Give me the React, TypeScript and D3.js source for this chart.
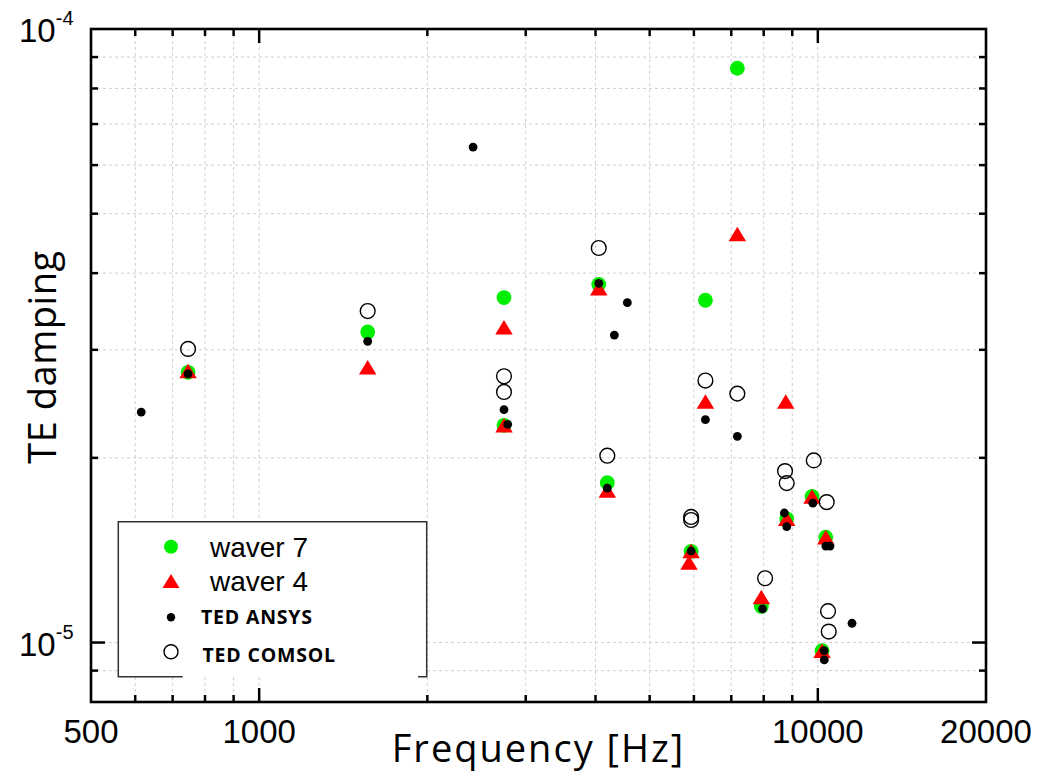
import * as d3 from "d3";
import React from "react";

// frequency [Hz], TE damping
const waver7: [number, number][] = [
  [746, 2.757e-5], [1564, 3.208e-5], [2743, 3.65e-5], [2743, 2.26e-5],
  [4054, 3.834e-5], [4199, 1.822e-5], [5932, 1.408e-5], [6292, 3.613e-5],
  [7177, 8.63e-5], [7924, 1.145e-5], [8797, 1.591e-5], [9765, 1.73e-5],
  [10333, 1.485e-5], [10176, 9.7e-6],
];

const waver4: [number, number][] = [
  [746, 2.77e-5], [1564, 2.81e-5], [2743, 3.265e-5], [2743, 2.26e-5],
  [4054, 3.78e-5], [4199, 1.77e-5], [5932, 1.41e-5], [5880, 1.351e-5],
  [6292, 2.471e-5], [7177, 4.635e-5], [8762, 2.47e-5], [7924, 1.186e-5],
  [8797, 1.591e-5], [9765, 1.73e-5], [10333, 1.485e-5], [10176, 9.7e-6],
];

const tedAnsys: [number, number][] = [
  [615, 2.375e-5], [746, 2.74e-5], [1564, 3.097e-5], [2415, 6.42e-5],
  [2743, 2.396e-5], [2785, 2.268e-5], [4054, 3.85e-5], [4561, 3.58e-5],
  [4323, 3.17e-5], [4199, 1.785e-5], [5932, 1.41e-5], [6292, 2.308e-5],
  [7177, 2.168e-5], [7960, 1.135e-5], [8712, 1.626e-5], [8797, 1.545e-5],
  [9796, 1.687e-5], [10333, 1.436e-5], [10515, 1.436e-5], [11513, 1.075e-5],
  [10262, 9.7e-6], [10270, 9.37e-6],
];

const tedComsol: [number, number][] = [
  [746, 3.01e-5], [1564, 3.47e-5], [2743, 2.716e-5], [2743, 2.561e-5],
  [4054, 4.396e-5], [4199, 2.016e-5], [5932, 1.602e-5], [5932, 1.584e-5],
  [6292, 2.673e-5], [7177, 2.545e-5], [9834, 1.981e-5], [8736, 1.903e-5],
  [8797, 1.819e-5], [10373, 1.694e-5], [8046, 1.273e-5], [10430, 1.125e-5],
  [10460, 1.042e-5],
];

const xMajorTicks = [1000, 10000];
const xMinorTicks = [600, 700, 800, 900, 2000, 3000, 4000, 5000, 6000, 7000, 8000, 9000];
const xTickLabels = [500, 1000, 10000, 20000];
const yMajorTicks = [1e-5];
const yMinorTicks = [9e-6, 2e-5, 3e-5, 4e-5, 5e-5, 6e-5, 7e-5, 8e-5, 9e-5];
const yTickLabels = [
  { v: 1e-4, exp: "-4" },
  { v: 1e-5, exp: "-5" },
];
const legendItems = ["waver 7", "waver 4", "TED ANSYS", "TED COMSOL"];

const W = 1055;
const H = 773;
const left = 91, right = 986, top = 29, bottom = 702;

const tri = (cx: number, cy: number, w: number, h: number) =>
  `M${cx},${cy - h / 2}L${cx + w / 2},${cy + h / 2}L${cx - w / 2},${cy + h / 2}Z`;

export default function App() {
  const x = d3.scaleLog().domain([500, 20000]).range([left, right]);
  const y = d3.scaleLog().domain([8e-6, 1e-4]).range([bottom, top]);

  const tickFont = "'Liberation Sans', Arial, sans-serif";
  const titleFont = "'Open Sans', 'DejaVu Sans', sans-serif";

  const xGrid = [...xMinorTicks, ...xMajorTicks];
  const yGrid = [...yMinorTicks, ...yMajorTicks];

  const lx = 171;
  const legendY = [546.7, 581, 617.3, 651.7];

  return (
    <svg width={W} height={H} style={{ position: "absolute", left: 0, top: 0, background: "#fff" }}>
      <rect x={0} y={0} width={W} height={H} fill="#fff" />
      {/* grid */}
      <g stroke="#cfcfcf" strokeWidth={1} strokeDasharray="3,3">
        {xGrid.map((t) => (
          <line key={"gx" + t} x1={x(t)} x2={x(t)} y1={top} y2={bottom} />
        ))}
        {yGrid.map((t) => (
          <line key={"gy" + t} x1={left} x2={right} y1={y(t)} y2={y(t)} />
        ))}
      </g>

      {/* ticks (inward, all four sides) */}
      <g stroke="#000" strokeWidth={2.5}>
        {xMinorTicks.map((t) => (
          <g key={"tx" + t}>
            <line x1={x(t)} x2={x(t)} y1={bottom} y2={bottom - 7} />
            <line x1={x(t)} x2={x(t)} y1={top} y2={top + 7} />
          </g>
        ))}
        {xMajorTicks.map((t) => (
          <g key={"tX" + t}>
            <line x1={x(t)} x2={x(t)} y1={bottom} y2={bottom - 14} />
            <line x1={x(t)} x2={x(t)} y1={top} y2={top + 14} />
          </g>
        ))}
        {yMinorTicks.map((t) => (
          <g key={"ty" + t}>
            <line x1={left} x2={left + 7} y1={y(t)} y2={y(t)} />
            <line x1={right} x2={right - 7} y1={y(t)} y2={y(t)} />
          </g>
        ))}
        {yMajorTicks.map((t) => (
          <g key={"tY" + t}>
            <line x1={left} x2={left + 14} y1={y(t)} y2={y(t)} />
            <line x1={right} x2={right - 14} y1={y(t)} y2={y(t)} />
          </g>
        ))}
      </g>

      {/* tick labels */}
      {xTickLabels.map((t) => (
        <text key={"lx" + t} x={x(t)} y={743} textAnchor="middle" fontFamily={tickFont} fontSize={33} fill="#000">
          {t}
        </text>
      ))}
      {yTickLabels.map((d) => (
        <text key={"ly" + d.v} x={19} y={y(d.v) + 13} fontFamily={tickFont} fontSize={33} fill="#000">
          10
          <tspan dy={-17} fontSize={20}>{d.exp}</tspan>
        </text>
      ))}

      {/* axis titles */}
      <text
        x={(left + right) / 2}
        y={762}
        textAnchor="middle"
        fontFamily={titleFont}
        fontSize={38}
        letterSpacing={2}
        fill="#000"
      >
        Frequency [Hz]
      </text>
      <text
        transform={`translate(56, 357) rotate(-90)`}
        textAnchor="middle"
        fontFamily={titleFont}
        fontSize={38}
        letterSpacing={0.5}
        fill="#000"
      >
        TE damping
      </text>

      {/* data */}
      <g clipPath="url(#plotclip)">
        {waver7.map((d, i) => (
          <circle key={"g" + i} cx={x(d[0])} cy={y(d[1])} r={7.4} fill="#00ee00" />
        ))}
        {waver4.map((d, i) => (
          <path key={"r" + i} d={tri(x(d[0]), y(d[1]), 17.5, 14.5)} fill="#ff0000" />
        ))}
        {tedAnsys.map((d, i) => (
          <circle key={"b" + i} cx={x(d[0])} cy={y(d[1])} r={4.4} fill="#000" />
        ))}
        {tedComsol.map((d, i) => (
          <circle key={"o" + i} cx={x(d[0])} cy={y(d[1])} r={7.4} fill="none" stroke="#000" strokeWidth={1.4} />
        ))}
      </g>
      <defs>
        <clipPath id="plotclip">
          <rect x={left} y={top} width={right - left} height={bottom - top} />
        </clipPath>
      </defs>

      {/* legend */}
      <rect x={118.3} y={521.7} width={308.4} height={155} fill="#fff" stroke="none" />
      <g stroke="#333" strokeWidth={1.5} fill="none">
        <polyline points="182.7,676.7 118.3,676.7 118.3,521.7 426.7,521.7 426.7,676.7 418,676.7" />
      </g>
      <circle cx={lx} cy={legendY[0]} r={7} fill="#00ee00" />
      <path d={tri(lx, legendY[1], 17, 14)} fill="#ff0000" />
      <circle cx={lx} cy={legendY[2]} r={4.2} fill="#000" />
      <circle cx={lx} cy={legendY[3]} r={7} fill="none" stroke="#000" strokeWidth={1.4} />
      <text x={210} y={556.7} fontFamily={tickFont} fontSize={28} fill="#000">{legendItems[0]}</text>
      <text x={210} y={591} fontFamily={tickFont} fontSize={28} fill="#000">{legendItems[1]}</text>
      <text x={201} y={624} fontFamily={titleFont} fontWeight="bold" fontSize={19.5} letterSpacing={0.8} fill="#000">{legendItems[2]}</text>
      <text x={202.5} y={662.3} fontFamily={titleFont} fontWeight="bold" fontSize={19.5} letterSpacing={0.8} fill="#000">{legendItems[3]}</text>

      {/* frame */}
      <rect x={left} y={top} width={right - left} height={bottom - top} fill="none" stroke="#000" strokeWidth={2.6} />
    </svg>
  );
}
